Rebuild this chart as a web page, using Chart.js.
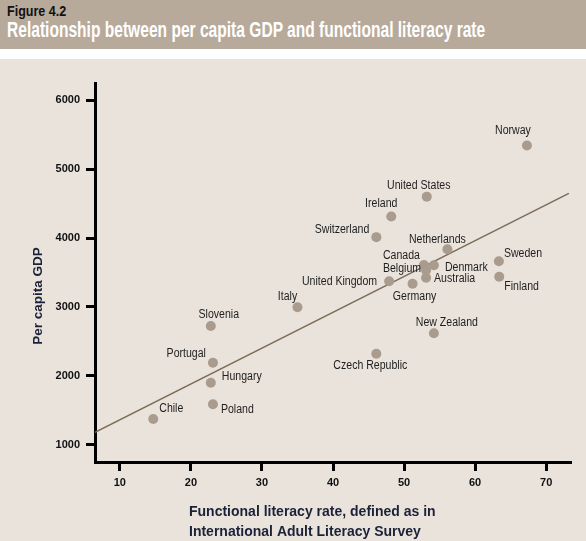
<!DOCTYPE html>
<html>
<head>
<meta charset="utf-8">
<script src="https://cdn.jsdelivr.net/npm/chart.js@4/dist/chart.umd.min.js"></script>
<style>
  body { margin: 0; background: #fff; width: 586px; height: 541px; overflow: hidden; }
  #head { position: absolute; top: 0; left: 0; width: 586px; height: 49px; background: #b8aa9b;
          font-family: "Liberation Sans", Arial, sans-serif; font-weight: bold; }
  #head span { position: absolute; left: 7px; white-space: nowrap; transform-origin: 0 0; }
  #fig { color: #111; font-size: 15.5px; line-height: 18px; top: 1.6px; }
  #ttl { color: #fff; font-size: 21.5px; line-height: 24px; top: 18.3px; }
  #wrap { position: absolute; top: 59px; left: 0; width: 586px; height: 482px; background: #e9e3dc; }
</style>
</head>
<body>
<div id="head">
  <span id="fig">Figure 4.2</span>
  <span id="ttl">Relationship between per capita GDP and functional literacy rate</span>
</div>
<div id="wrap"><canvas id="chart" width="586" height="482"></canvas></div>
<script>
// values
const countries = ['Norway', 'United States', 'Ireland', 'Switzerland', 'Netherlands', 'Canada', 'Belgium',
  'Denmark', 'Australia', 'United Kingdom', 'Germany', 'Sweden', 'Finland', 'Italy', 'New Zealand',
  'Czech Republic', 'Slovenia', 'Portugal', 'Hungary', 'Poland', 'Chile'];
const literacy = [67.3, 53.2, 48.2, 46.1, 56.1, 52.8, 53.1, 54.2, 53.1, 47.9, 51.2, 63.35, 63.4, 35.0, 54.2,
  46.1, 22.8, 23.1, 22.8, 23.1, 14.7];
const gdp = [5344, 4601, 4313, 4013, 3838, 3609, 3532, 3605, 3424, 3372, 3337, 3663, 3439, 2997, 2618,
  2322, 2724, 2191, 1899, 1587, 1374];
const trendX = [6.5, 73.2];
const trendY = [1180, 4650];
const xTicks = [10, 20, 30, 40, 50, 60, 70];
const yTicks = [1000, 2000, 3000, 4000, 5000, 6000];

// the original uses a condensed face; squeeze the header text to the same width
function squeeze(id, w) {
  const el = document.getElementById(id);
  el.style.transform = 'scaleX(' + (w / el.offsetWidth) + ')';
}
squeeze('fig', 59);
squeeze('ttl', 478);

// where each country's name sits relative to its dot: [dx, dy, align]
const labelPlace = {
  'Norway': [-14, -15, 'center'], 'United States': [-8, -11, 'center'], 'Ireland': [-10, -13, 'center'],
  'Switzerland': [-7, -7, 'right'], 'Netherlands': [-10, -10, 'center'], 'Canada': [-4, -9, 'right'],
  'Belgium': [-5, -2, 'right'], 'Denmark': [11, 2, 'left'], 'Australia': [8, 1, 'left'],
  'United Kingdom': [-12, 0, 'right'], 'Germany': [2, 13, 'center'], 'Sweden': [5, -8, 'left'],
  'Finland': [5, 10, 'left'], 'Italy': [-10, -10, 'center'], 'New Zealand': [13, -11, 'center'],
  'Czech Republic': [-6, 12, 'center'], 'Slovenia': [8, -11, 'center'], 'Portugal': [-7, -9, 'right'],
  'Hungary': [11, -6, 'left'], 'Poland': [8, 5, 'left'], 'Chile': [6, -10, 'left']
};

const labelsPlugin = {
  id: 'labels',
  afterDatasetsDraw(c) {
    const ctx = c.ctx;
    const pts = c.getDatasetMeta(1).data;
    ctx.save();
    ctx.font = '12px "Liberation Sans", Arial, sans-serif';
    ctx.fillStyle = '#1e1e1e';
    ctx.textBaseline = 'middle';
    pts.forEach((p, i) => {
      const pl = labelPlace[countries[i]];
      ctx.save();
      ctx.translate(p.x + pl[0], p.y + pl[1]);
      ctx.scale(0.88, 1); // narrow like the original face
      ctx.textAlign = pl[2];
      ctx.fillText(countries[i], 0, 0);
      ctx.restore();
    });
    // axis titles
    ctx.fillStyle = '#1b2138';
    ctx.font = 'bold 14px "Liberation Sans", Arial, sans-serif';
    ctx.textAlign = 'left';
    ctx.fillText('Functional literacy rate, defined as in', 189, 453.5);
    ctx.fillText('International Adult Literacy Survey', 189, 472.7);
    ctx.translate(38, 237);
    ctx.rotate(-Math.PI / 2);
    ctx.textAlign = 'center';
    ctx.font = 'bold 13.5px "Liberation Sans", Arial, sans-serif';
    ctx.fillText('Per capita GDP', 0, 0);
    ctx.restore();
  }
};

const tickFont = { family: '"Liberation Sans", Arial, sans-serif', size: 11, weight: 'bold' };

new Chart(document.getElementById('chart'), {
  data: {
    datasets: [
      {
        type: 'line',
        data: trendX.map((x, i) => ({ x, y: trendY[i] })),
        borderColor: '#7b6b59',
        borderWidth: 1.4,
        pointRadius: 0,
        order: 2
      },
      {
        type: 'scatter',
        data: literacy.map((x, i) => ({ x, y: gdp[i] })),
        backgroundColor: '#a99b8d',
        borderWidth: 0,
        pointRadius: 5,
        order: 1
      }
    ]
  },
  options: {
    responsive: false,
    animation: false,
    layout: { padding: { top: 24, right: 15, bottom: 0, left: 0 } },
    plugins: { legend: { display: false }, tooltip: { enabled: false } },
    scales: {
      x: {
        type: 'linear',
        min: 6.5,
        max: 73.5,
        afterBuildTicks: s => { s.ticks = xTicks.map(v => ({ value: v })); },
        afterFit: s => { s.height = 79; },
        border: { display: true, color: '#000', width: 3 },
        grid: { drawOnChartArea: false, drawTicks: true, tickLength: 9, tickWidth: 3, tickColor: '#000' },
        ticks: { color: '#111', padding: 5, font: tickFont, callback: v => String(v) }
      },
      y: {
        type: 'linear',
        min: 750,
        max: 6250,
        afterBuildTicks: s => { s.ticks = yTicks.map(v => ({ value: v })); },
        afterFit: s => { s.width = 95; },
        border: { display: true, color: '#000', width: 3 },
        grid: { drawOnChartArea: false, drawTicks: true, tickLength: 9, tickWidth: 3, tickColor: '#000' },
        ticks: { color: '#111', padding: 6, font: tickFont, callback: v => String(v) }
      }
    }
  },
  plugins: [labelsPlugin]
});
</script>
</body>
</html>
